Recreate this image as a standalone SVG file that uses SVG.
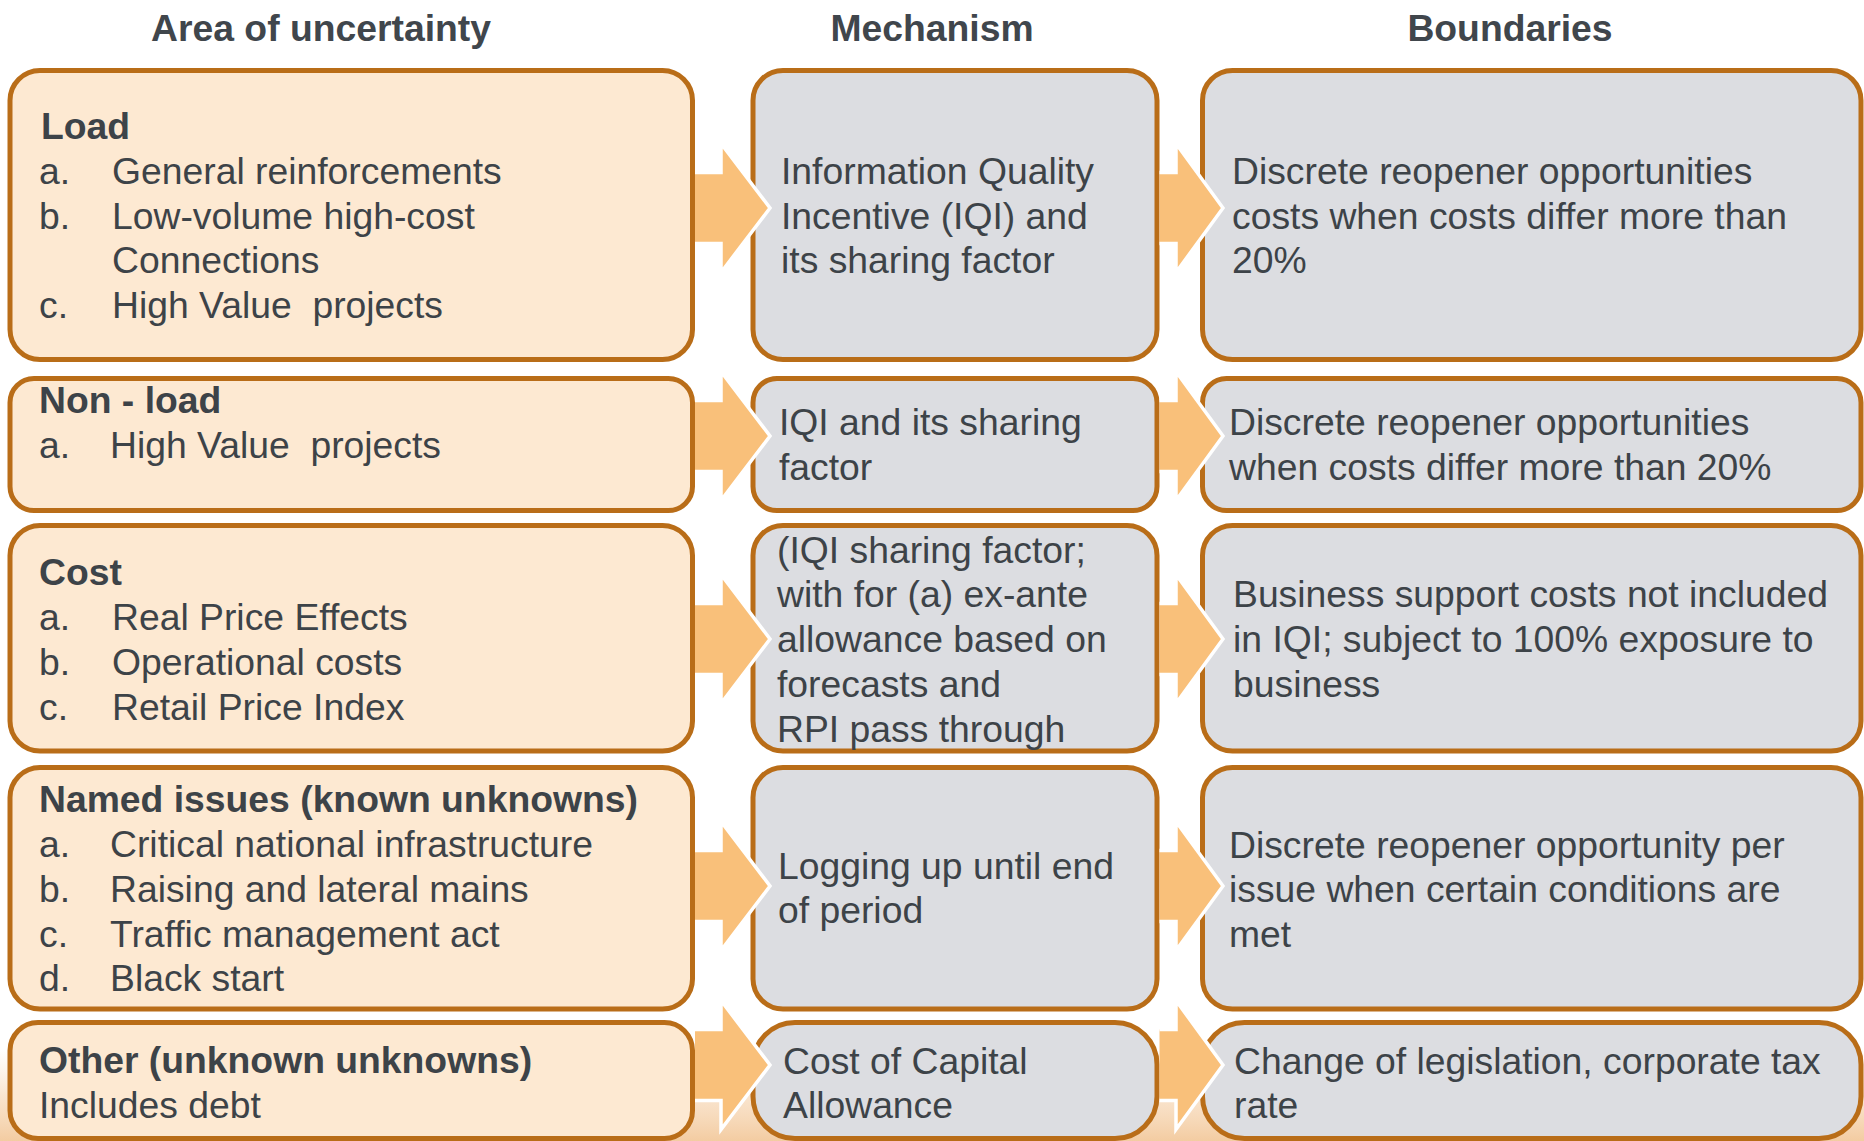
<svg xmlns="http://www.w3.org/2000/svg" width="1864" height="1141" viewBox="0 0 1864 1141">
  <defs>
    <linearGradient id="floor" x1="0" y1="0" x2="0" y2="1">
      <stop offset="0" stop-color="#f7d6b2" stop-opacity="0"/>
      <stop offset="0.5" stop-color="#f5d0a8" stop-opacity="0.55"/>
      <stop offset="1" stop-color="#f1c391" stop-opacity="0.85"/>
    </linearGradient>
    <style>
      .hdr { font: bold 37.3px "Liberation Sans", Arial, sans-serif; fill: #40464c; text-anchor: middle; }
      .t { font: 37.3px "Liberation Sans", Arial, sans-serif; fill: #3d4348; transform: translateY(1px); }
      .b { font-weight: bold; }
      .area { fill: #fde9d2; stroke: #b96d18; stroke-width: 5; }
      .mech { fill: #dcdde1; stroke: #b96d18; stroke-width: 5; }
      .afill { fill: #f9c07a; }
      .aedge { fill: none; stroke: #ffffff; stroke-width: 3.5; stroke-linejoin: miter; }
    </style>
  </defs>

  <!-- page background with warm band at the foot -->
  <rect x="0" y="0" width="1864" height="1141" fill="#ffffff"/>
  <rect x="0" y="1050" width="1864" height="91" fill="url(#floor)"/>

  <!-- column headings -->
  <g id="headings">
    <text class="hdr" x="321" y="41">Area of uncertainty</text>
    <text class="hdr" x="932" y="41">Mechanism</text>
    <text class="hdr" x="1510" y="41">Boundaries</text>
  </g>

  <!-- row 1 -->
  <g id="area-load">
    <rect class="area" x="10" y="70.5" width="682.5" height="289" rx="30"/>
    <text class="t b" x="41" y="138">Load</text>
    <text class="t" x="39" y="183">a.</text><text class="t" x="112" y="183">General reinforcements</text>
    <text class="t" x="39" y="228">b.</text><text class="t" x="112" y="228">Low-volume high-cost</text>
    <text class="t" x="112" y="272">Connections</text>
    <text class="t" x="39" y="317">c.</text><text class="t" x="112" y="317" xml:space="preserve">High Value  projects</text>
  </g>
  <g id="mech-load">
    <rect class="mech" x="753" y="70.5" width="404" height="289" rx="30"/>
    <text class="t" x="781" y="183">Information Quality</text>
    <text class="t" x="781" y="228">Incentive (IQI) and</text>
    <text class="t" x="781" y="272">its sharing factor</text>
  </g>
  <g id="bound-load">
    <rect class="mech" x="1202.5" y="70.5" width="658.5" height="289" rx="30"/>
    <text class="t" x="1232" y="183">Discrete reopener opportunities</text>
    <text class="t" x="1232" y="228">costs when costs differ more than</text>
    <text class="t" x="1232" y="272">20%</text>
  </g>

  <!-- row 2 -->
  <g id="area-nonload">
    <rect class="area" x="10" y="378.5" width="682.5" height="132" rx="24"/>
    <text class="t b" x="39" y="412">Non - load</text>
    <text class="t" x="39" y="457">a.</text><text class="t" x="110" y="457" xml:space="preserve">High Value  projects</text>
  </g>
  <g id="mech-nonload">
    <rect class="mech" x="753" y="378.5" width="404" height="132" rx="24"/>
    <text class="t" x="779" y="434">IQI and its sharing</text>
    <text class="t" x="779" y="479">factor</text>
  </g>
  <g id="bound-nonload">
    <rect class="mech" x="1202.5" y="378.5" width="658.5" height="132" rx="24"/>
    <text class="t" x="1229" y="434">Discrete reopener opportunities</text>
    <text class="t" x="1229" y="479">when costs differ more than 20%</text>
  </g>

  <!-- row 3 -->
  <g id="area-cost">
    <rect class="area" x="10" y="525.5" width="682.5" height="225.5" rx="30"/>
    <text class="t b" x="39" y="584">Cost</text>
    <text class="t" x="39" y="629">a.</text><text class="t" x="112" y="629">Real Price Effects</text>
    <text class="t" x="39" y="674">b.</text><text class="t" x="112" y="674">Operational costs</text>
    <text class="t" x="39" y="719">c.</text><text class="t" x="112" y="719">Retail Price Index</text>
  </g>
  <g id="mech-cost">
    <rect class="mech" x="753" y="525.5" width="404" height="225.5" rx="30"/>
    <text class="t" x="777" y="562">(IQI sharing factor;</text>
    <text class="t" x="777" y="606">with for (a) ex-ante</text>
    <text class="t" x="777" y="651">allowance based on</text>
    <text class="t" x="777" y="696">forecasts and</text>
    <text class="t" x="777" y="741">RPI pass through</text>
  </g>
  <g id="bound-cost">
    <rect class="mech" x="1202.5" y="525.5" width="658.5" height="225.5" rx="30"/>
    <text class="t" x="1233" y="606">Business support costs not included</text>
    <text class="t" x="1233" y="651">in IQI; subject to 100% exposure to</text>
    <text class="t" x="1233" y="696">business</text>
  </g>

  <!-- row 4 -->
  <g id="area-named">
    <rect class="area" x="10" y="767.5" width="682.5" height="241.5" rx="30"/>
    <text class="t b" x="39" y="811">Named issues (known unknowns)</text>
    <text class="t" x="39" y="856">a.</text><text class="t" x="110" y="856">Critical national infrastructure</text>
    <text class="t" x="39" y="901">b.</text><text class="t" x="110" y="901">Raising and lateral mains</text>
    <text class="t" x="39" y="946">c.</text><text class="t" x="110" y="946">Traffic management act</text>
    <text class="t" x="39" y="990">d.</text><text class="t" x="110" y="990">Black start</text>
  </g>
  <g id="mech-named">
    <rect class="mech" x="753" y="767.5" width="404" height="241.5" rx="30"/>
    <text class="t" x="778" y="878">Logging up until end</text>
    <text class="t" x="778" y="922">of period</text>
  </g>
  <g id="bound-named">
    <rect class="mech" x="1202.5" y="767.5" width="658.5" height="241.5" rx="30"/>
    <text class="t" x="1229" y="857">Discrete reopener opportunity per</text>
    <text class="t" x="1229" y="901">issue when certain conditions are</text>
    <text class="t" x="1229" y="946">met</text>
  </g>

  <!-- row 5 -->
  <g id="area-other">
    <rect class="area" x="10" y="1022.5" width="682.5" height="116" rx="28"/>
    <text class="t b" x="39" y="1072">Other (unknown unknowns)</text>
    <text class="t" x="39" y="1117">Includes debt</text>
  </g>
  <g id="mech-other">
    <rect class="mech" x="753" y="1022.5" width="404" height="116" rx="42"/>
    <text class="t" x="783" y="1073">Cost of Capital</text>
    <text class="t" x="783" y="1117">Allowance</text>
  </g>
  <g id="bound-other">
    <rect class="mech" x="1202.5" y="1022.5" width="658.5" height="116" rx="42"/>
    <text class="t" x="1234" y="1073">Change of legislation, corporate tax</text>
    <text class="t" x="1234" y="1117">rate</text>
  </g>

  <!-- block arrows between the columns -->
  <g id="connectors">
    <!-- row 1, centre y 208 -->
    <polygon class="afill" points="695,172.5 721,172.5 721,143.5 770,208 721,272.5 721,243.5 695,243.5"/>
    <polyline class="aedge" points="695,172.5 721,172.5 721,143.5 770,208 721,272.5 721,243.5 695,243.5"/>
    <polygon class="afill" points="1159.5,172.5 1176,172.5 1176,143.5 1223,208 1176,272.5 1176,243.5 1159.5,243.5"/>
    <polyline class="aedge" points="1159.5,172.5 1176,172.5 1176,143.5 1223,208 1176,272.5 1176,243.5 1159.5,243.5"/>
    <!-- row 2, centre y 436 -->
    <polygon class="afill" points="695,400.5 721,400.5 721,371.5 770,436 721,500.5 721,471.5 695,471.5"/>
    <polyline class="aedge" points="695,400.5 721,400.5 721,371.5 770,436 721,500.5 721,471.5 695,471.5"/>
    <polygon class="afill" points="1159.5,400.5 1176,400.5 1176,371.5 1223,436 1176,500.5 1176,471.5 1159.5,471.5"/>
    <polyline class="aedge" points="1159.5,400.5 1176,400.5 1176,371.5 1223,436 1176,500.5 1176,471.5 1159.5,471.5"/>
    <!-- row 3, centre y 639 -->
    <polygon class="afill" points="695,603.5 721,603.5 721,574.5 770,639 721,703.5 721,674.5 695,674.5"/>
    <polyline class="aedge" points="695,603.5 721,603.5 721,574.5 770,639 721,703.5 721,674.5 695,674.5"/>
    <polygon class="afill" points="1159.5,603.5 1176,603.5 1176,574.5 1223,639 1176,703.5 1176,674.5 1159.5,674.5"/>
    <polyline class="aedge" points="1159.5,603.5 1176,603.5 1176,574.5 1223,639 1176,703.5 1176,674.5 1159.5,674.5"/>
    <!-- row 4, centre y 886 -->
    <polygon class="afill" points="695,850.5 721,850.5 721,821.5 770,886 721,950.5 721,921.5 695,921.5"/>
    <polyline class="aedge" points="695,850.5 721,850.5 721,821.5 770,886 721,950.5 721,921.5 695,921.5"/>
    <polygon class="afill" points="1159.5,850.5 1176,850.5 1176,821.5 1223,886 1176,950.5 1176,921.5 1159.5,921.5"/>
    <polyline class="aedge" points="1159.5,850.5 1176,850.5 1176,821.5 1223,886 1176,950.5 1176,921.5 1159.5,921.5"/>
    <!-- row 5, centre y 1065 -->
    <polygon class="afill" points="695,1029.5 721,1029.5 721,1000.5 770,1065 721,1129.5 721,1100.5 695,1100.5"/>
    <polyline class="aedge" points="695,1029.5 721,1029.5 721,1000.5 770,1065 721,1129.5 721,1100.5 695,1100.5"/>
    <polygon class="afill" points="1159.5,1029.5 1176,1029.5 1176,1000.5 1223,1065 1176,1129.5 1176,1100.5 1159.5,1100.5"/>
    <polyline class="aedge" points="1159.5,1029.5 1176,1029.5 1176,1000.5 1223,1065 1176,1129.5 1176,1100.5 1159.5,1100.5"/>
  </g>
</svg>
